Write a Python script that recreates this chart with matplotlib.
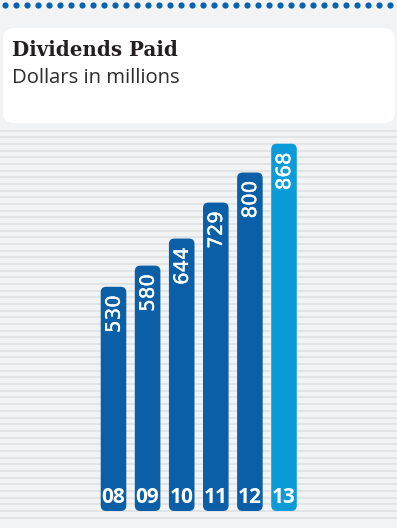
import matplotlib
matplotlib.use('Agg')
import matplotlib.pyplot as plt
import matplotlib.patheffects as pe
from matplotlib.patches import FancyBboxPatch
import numpy as np

# Dividends paid, dollars in millions
years = ['08', '09', '10', '11', '12', '13']
dividends = [530, 580, 644, 729, 800, 868]

title = 'Dividends Paid'
subtitle = 'Dollars in millions'

W, H = 397, 528
bg_color = '#f2f3f4'
stripe_color = '#e1e2e3'
dot_color = '#0a62ad'
bar_dark = '#0b5fa6'
bar_light = '#0b9bd8'

fig = plt.figure(figsize=(W / 100, H / 100), dpi=100)
fig.patch.set_facecolor(bg_color)

# background layer in pixel units: dotted rule, stripes, title box
bg = fig.add_axes([0, 0, 1, 1])
bg.set_xlim(0, W)
bg.set_ylim(H, 0)
bg.axis('off')

dots_x = np.arange(5.3, W, 11.0)
bg.scatter(dots_x, np.full(len(dots_x), 5.3), s=20, color=dot_color, linewidths=0)

stripes_y = np.arange(130.7, 521, 6.67)
bg.hlines(stripes_y, 0, W, color=stripe_color, linewidth=1.3)

box = FancyBboxPatch((3, 28), 392, 95, boxstyle='round,pad=0,rounding_size=11',
                     facecolor='white', edgecolor='none')
bg.add_patch(box)
bg.text(12.5, 56.5, title, fontsize=14.3, fontweight='bold', family='DejaVu Serif',
        color='#231f20', va='baseline')
bg.text(12.5, 83, subtitle, fontsize=14.6, family='Open Sans', color='#2b2b2b',
        va='baseline')

# bar chart layer
px_per_x = 34.1
px_per_y = 0.4231
base_px = 511
top_px = 125
ax = fig.add_axes([0, (H - base_px) / H, 1, (base_px - top_px) / H])
ax.set_xlim(-113.5 / px_per_x, (W - 113.5) / px_per_x)
ax.set_ylim(0, (base_px - top_px) / px_per_y)
ax.axis('off')
ax.patch.set_alpha(0)

x = np.arange(len(years))
colors = [bar_dark] * (len(years) - 1) + [bar_light]
bars = ax.bar(x, dividends, width=0.75, color=colors)

# swap the plain rectangles for rounded ones
aspect = px_per_x / px_per_y
for rect, c in zip(bars, colors):
    rect.set_visible(False)
    rb = FancyBboxPatch((rect.get_x(), rect.get_y()), rect.get_width(), rect.get_height(),
                        boxstyle='round,pad=0,rounding_size=%f' % (5.5 / px_per_x),
                        mutation_aspect=aspect, facecolor=c, edgecolor='none')
    ax.add_patch(rb)

# a thin white outline thickens the value labels a little
thick = [pe.withStroke(linewidth=0.25, foreground='white')]
for xi, v, yr in zip(x, dividends, years):
    ax.text(xi + 0.02, v - 8.5 / px_per_y, str(v), rotation=90, ha='center', va='top',
            fontsize=14.2, family='DejaVu Sans', color='white', path_effects=thick)
    ax.text(xi, 8 / px_per_y, yr, ha='center', va='baseline', fontsize=15,
            fontweight='bold', family='Open Sans', color='white')

fig.savefig('out.png', dpi=100, facecolor=fig.get_facecolor())
